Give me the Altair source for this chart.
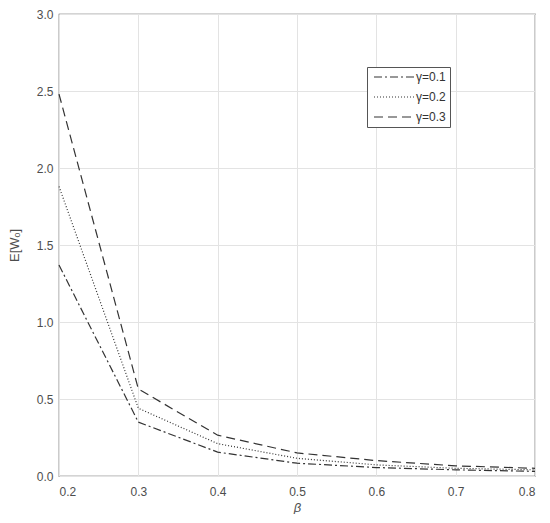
import altair as alt
import pandas as pd

beta = [0.2, 0.3, 0.4, 0.5, 0.6, 0.7, 0.8]
g01 = [1.37, 0.35, 0.155, 0.083, 0.055, 0.040, 0.030]
g02 = [1.88, 0.44, 0.21, 0.115, 0.072, 0.050, 0.040]
g03 = [2.48, 0.565, 0.265, 0.150, 0.100, 0.066, 0.050]
series = ["γ=0.1", "γ=0.2", "γ=0.3"]

rows = []
for name, vals in zip(series, [g01, g02, g03]):
    for b, v in zip(beta, vals):
        rows.append({"beta": b, "value": v, "series": name})
df = pd.DataFrame(rows)

font = "Liberation Sans"
chart = alt.Chart(df).mark_line(color="#333333", strokeWidth=1.2).encode(
    x=alt.X("beta:Q", title="β",
            scale=alt.Scale(domain=[0.2, 0.8], nice=False),
            axis=alt.Axis(values=beta, format=".1f", titleFontStyle="italic",
                          titleFontWeight="normal", titlePadding=4, labelPadding=10)),
    y=alt.Y("value:Q", title="E[Wₒ]",
            scale=alt.Scale(domain=[0, 3], nice=False),
            axis=alt.Axis(values=[0, 0.5, 1, 1.5, 2, 2.5, 3], format=".1f",
                          titleFontWeight="normal", titlePadding=15)),
    strokeDash=alt.StrokeDash("series:N",
        scale=alt.Scale(domain=series, range=[[8, 3, 2, 3], [1, 2], [9, 5]]),
        legend=alt.Legend(title=None, orient="none", legendX=308, legendY=53,
                          symbolType="M-0.6,0H7.6", symbolSize=100,
                          symbolStrokeColor="#333333", symbolStrokeWidth=1.2,
                          labelFont=font, labelFontSize=12, labelColor="#333333",
                          fillColor="white", strokeColor="#555555",
                          padding=4, rowPadding=8, labelOffset=33)),
).properties(width=476, height=462, padding=0)

chart = chart.configure_axis(
    labelFont=font, titleFont=font, labelFontSize=12, titleFontSize=13,
    labelColor="#4d4d4d", titleColor="#4d4d4d",
    gridColor="#e3e3e3", domain=False, ticks=False, labelPadding=6,
).configure_view(stroke="#555555", strokeWidth=1.2)

chart.save("out.html", embed_options={"renderer": "svg", "actions": False})
